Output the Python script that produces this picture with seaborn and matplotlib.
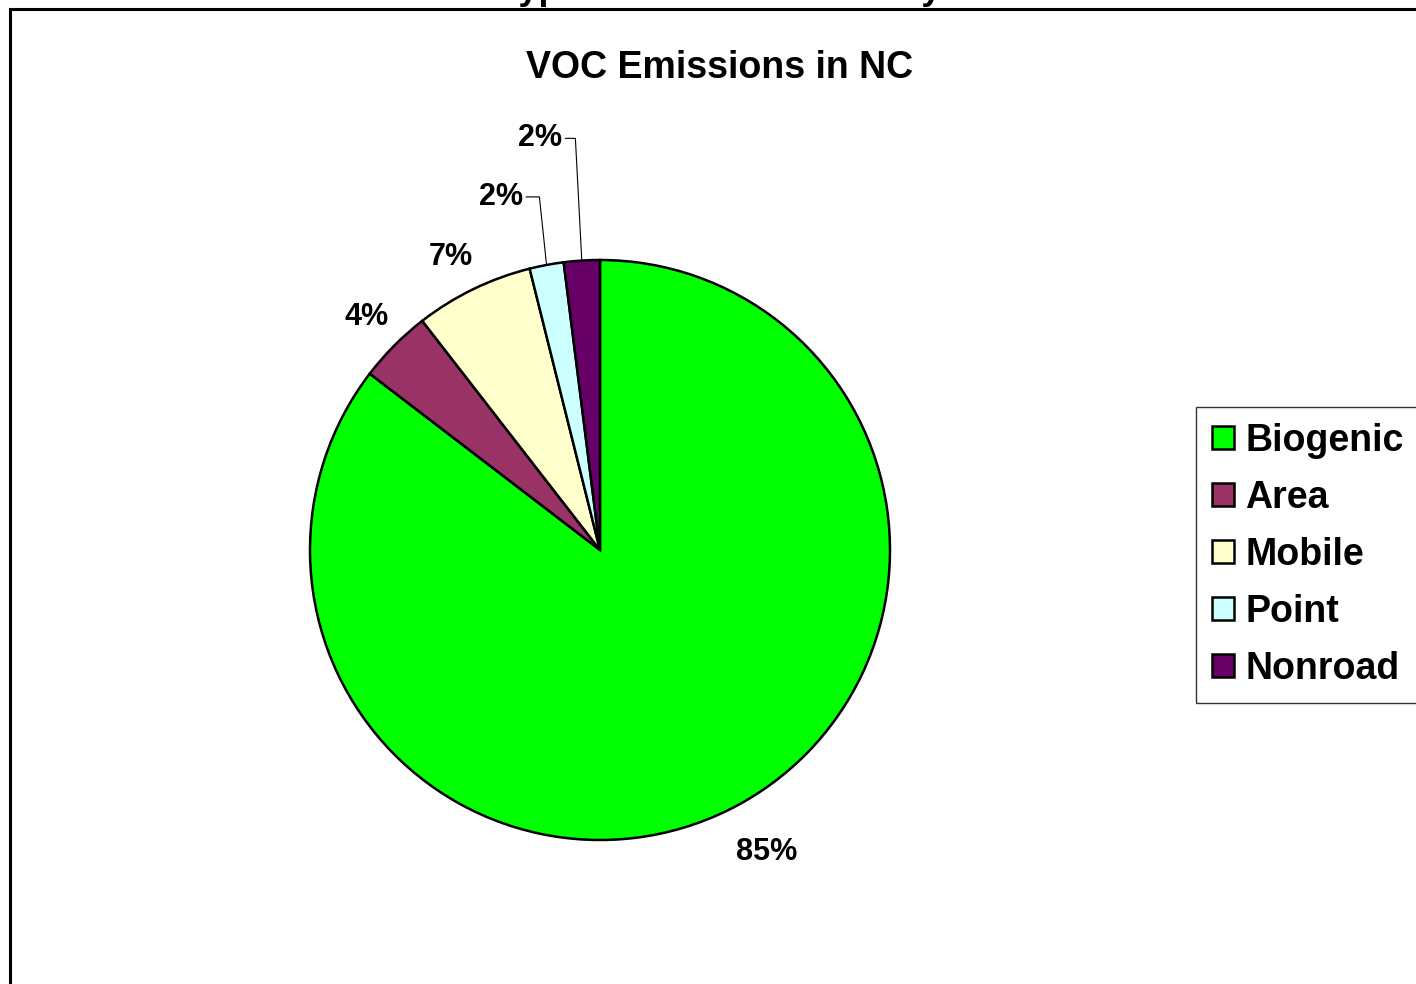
import numpy as np
import matplotlib
matplotlib.use("Agg")
import matplotlib.pyplot as plt
import seaborn as sns
from matplotlib.patches import Rectangle

# data
sources = ["Biogenic", "Area", "Mobile", "Point", "Nonroad"]
shares = [85.4, 4.1, 6.6, 1.9, 2.0]
pct_labels = ["85%", "4%", "7%", "2%", "2%"]
colors = ["#00FF00", "#993366", "#FFFFCC", "#CCFFFF", "#660066"]

sns.set_theme(style="white")
plt.rcParams["font.family"] = ["Liberation Sans", "DejaVu Sans"]
plt.rcParams["font.weight"] = "bold"
plt.rcParams["text.color"] = "black"

W, H = 1416, 984
fig = plt.figure(figsize=(W / 100, H / 100), dpi=100)
ax = fig.add_axes([0, 0, 1, 1])

wedges, _ = ax.pie(shares, colors=sns.color_palette(colors), startangle=90,
                   counterclock=False, radius=1,
                   wedgeprops=dict(edgecolor="black", linewidth=1.8))

# pie centre at (600, 550) px, radius 290 px
R = 290
ax.set_xlim(-600 / R, (W - 600) / R)
ax.set_ylim(-(H - 550) / R, 550 / R)
ax.set_aspect("auto")
ax.axis("off")

# labels on the big slices, nearest corner just outside the rim
for w, lab in zip(wedges[:3], pct_labels[:3]):
    mid = np.deg2rad((w.theta1 + w.theta2) / 2)
    c, s = np.cos(mid), np.sin(mid)
    r = 1.10 if s < 0 else 1.06
    ax.annotate(lab, xy=(r * c, r * s), xytext=(-4, -1) if s < 0 else (5, 1),
                textcoords="offset points", fontsize=22, fontweight="bold",
                ha="left" if c > 0 else "right",
                va="top" if s < 0 else "bottom")

# small slices: labels pulled out with leader lines
leader = {3: ((-33, 49), 96), 4: ((-30, 88), 93)}
for i, (offset, angB) in leader.items():
    w = wedges[i]
    mid = np.deg2rad((w.theta1 + w.theta2) / 2)
    ax.annotate(pct_labels[i], xy=(np.cos(mid), np.sin(mid)), xytext=offset,
                textcoords="offset points", ha="center", va="center",
                fontsize=22, fontweight="bold",
                arrowprops=dict(arrowstyle="-", color="black", lw=0.8,
                                relpos=(1, 0.5), shrinkA=0, shrinkB=0,
                                connectionstyle=f"angle,angleA=0,angleB={angB},rad=0"))

# chart frame
fig.add_artist(Rectangle((10 / W, -0.1), 1.2, 1 - 9 / H + 0.1, fill=False,
                         edgecolor="black", linewidth=2.2,
                         transform=fig.transFigure))

fig.text(720 / W, 1 + 1 / H, "Typical Summer Weekday", ha="center",
         va="baseline", fontsize=26, fontweight="bold")
fig.text(720 / W, 1 - 68 / H, "VOC Emissions in NC", ha="center",
         va="center", fontsize=27, fontweight="bold")

leg = fig.legend(wedges, sources, loc="upper left",
                 bbox_to_anchor=(1196 / W, 1 - 407 / H), borderaxespad=0,
                 frameon=True, fancybox=False, fontsize=27,
                 handlelength=0.6, handleheight=0.6, handletextpad=0.3,
                 labelspacing=0.56, borderpad=0.42)
leg.get_frame().set_edgecolor("black")
leg.get_frame().set_linewidth(1)
for t in leg.get_texts():
    t.set_fontweight("bold")
    t.set_color("black")

fig.savefig("out.png", dpi=100)
